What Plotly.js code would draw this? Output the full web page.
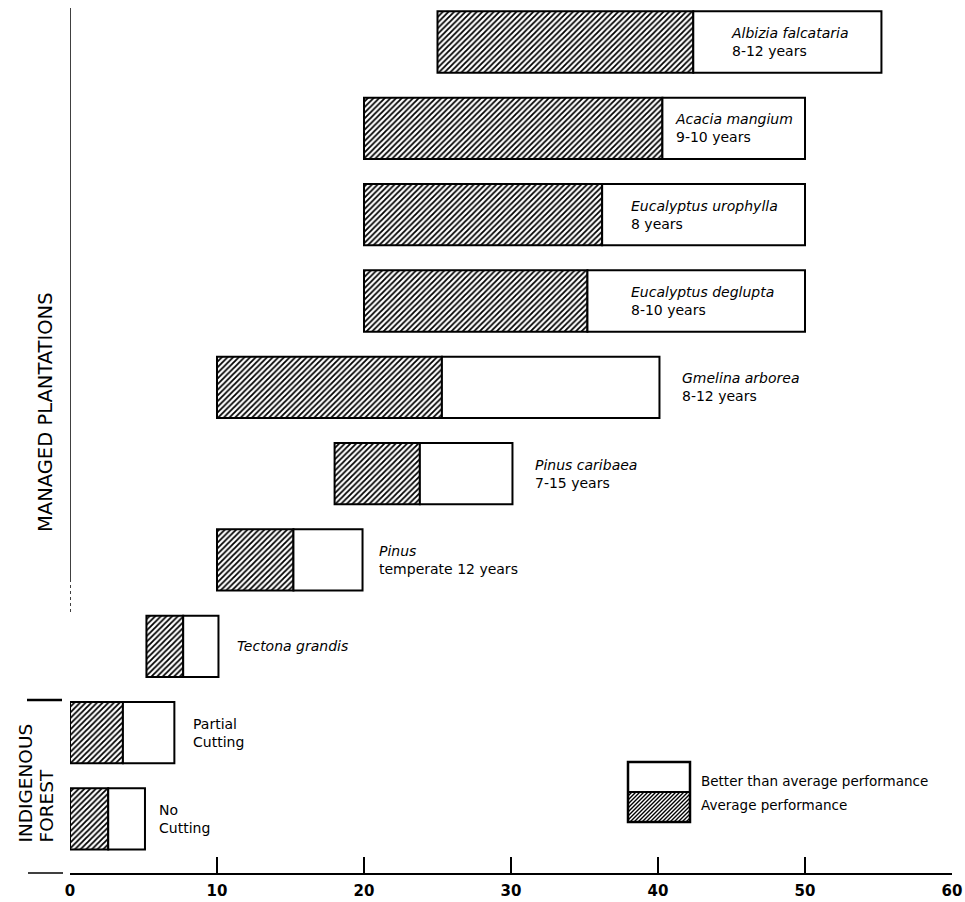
<!DOCTYPE html>
<html>
<head>
<meta charset="utf-8">
<script src="https://cdn.plot.ly/plotly-3.0.1.min.js"></script>
<style>html,body{margin:0;padding:0;background:#fff;}#chart{width:965px;height:902px;}</style>
</head>
<body>
<div id="chart"></div>
<script>
// ---- data ----
const categories = ["Albizia falcataria", "Acacia mangium", "Eucalyptus urophylla", "Eucalyptus deglupta",
  "Gmelina arborea", "Pinus caribaea", "Pinus temperate", "Tectona grandis", "Partial Cutting", "No Cutting"];
const startValues = [25, 20, 20, 20, 10, 18, 10, 5.2, 0, 0];
const averageEnd  = [42.4, 40.3, 36.2, 35.2, 25.3, 23.8, 15.2, 7.7, 3.6, 2.6];
const betterEnd   = [55.2, 50, 50, 50, 40.1, 30.1, 19.9, 10.1, 7.1, 5.1];
const barLabels = [
  "<i>Albizia falcataria</i><br>8-12 years",
  "<i>Acacia mangium</i><br>9-10 years",
  "<i>Eucalyptus urophylla</i><br>8 years",
  "<i>Eucalyptus deglupta</i><br>8-10 years",
  "<i>Gmelina arborea</i><br>8-12 years",
  "<i>Pinus caribaea</i><br>7-15 years",
  "<i>Pinus</i><br>temperate 12 years",
  "<i>Tectona grandis</i>",
  "Partial<br>Cutting",
  "No<br>Cutting"
];
const xTicks = [0, 10, 20, 30, 40, 50, 60];
const seriesNames = ["Average performance", "Better than average performance"];
const groupLabels = ["MANAGED PLANTATIONS", "INDIGENOUS", "FOREST"];

// label placement (offset in x units from a reference point of each bar)
const labelAnchor = ["avg", "avg", "avg", "avg", "end", "end", "end", "end", "end", "end"];
const labelOffset = [2.4, 0.7, 1.8, 2.8, 1.4, 1.4, 1.0, 1.1, 1.1, 0.8];

const FONT = "DejaVu Sans, Verdana, sans-serif";
const W = 965, H = 902;
const M = {l: 70, r: 13, t: 0, b: 29};
const PW = W - M.l - M.r, PH = H - M.t - M.b;
const px2x = p => (p - M.l) / PW;          // pixel -> paper x
const py2y = p => 1 - (p - M.t) / PH;      // pixel -> paper y

const hatch = {shape: "/", size: 4, solidity: 0.45, fgcolor: "black", bgcolor: "white", fillmode: "replace"};

const avgTrace = {
  type: "bar", orientation: "h", name: seriesNames[0],
  y: categories,
  base: startValues,
  x: averageEnd.map((v, i) => v - startValues[i]),
  marker: {color: "white", pattern: hatch, line: {color: "black", width: 2}},
  hoverinfo: "skip", showlegend: false
};
const betterTrace = {
  type: "bar", orientation: "h", name: seriesNames[1],
  y: categories,
  base: averageEnd,
  x: betterEnd.map((v, i) => v - averageEnd[i]),
  marker: {color: "white", line: {color: "black", width: 2}},
  hoverinfo: "skip", showlegend: false
};

const annotations = categories.map((c, i) => ({
  x: (labelAnchor[i] === "avg" ? averageEnd[i] : betterEnd[i]) + labelOffset[i],
  y: c, xref: "x", yref: "y",
  text: barLabels[i], showarrow: false, xanchor: "left", yanchor: "middle", align: "left",
  font: {family: FONT, size: 14, color: "black"}
}));

// group labels (rotated)
annotations.push(
  {text: groupLabels[0], xref: "paper", yref: "paper", x: px2x(45), y: py2y(412), textangle: -90,
   showarrow: false, xanchor: "center", yanchor: "middle", font: {family: FONT, size: 19.5, color: "black"}},
  {text: groupLabels[1], xref: "paper", yref: "paper", x: px2x(25), y: py2y(845), textangle: -90,
   showarrow: false, xanchor: "center", yanchor: "bottom", font: {family: FONT, size: 18.5, color: "black"}},
  {text: groupLabels[2], xref: "paper", yref: "paper", x: px2x(46), y: py2y(845), textangle: -90,
   showarrow: false, xanchor: "center", yanchor: "bottom", font: {family: FONT, size: 18.5, color: "black"}}
);

// ---- custom legend key (box: white top half, hatched bottom half) ----
const key = {x0: 628, x1: 690, y0: 762, ym: 792, y1: 822};
annotations.push(
  {text: seriesNames[1], xref: "paper", yref: "paper", x: px2x(699), y: py2y(781), showarrow: false,
   xanchor: "left", yanchor: "middle", font: {family: FONT, size: 13.5, color: "black"}},
  {text: seriesNames[0], xref: "paper", yref: "paper", x: px2x(699), y: py2y(805), showarrow: false,
   xanchor: "left", yanchor: "middle", font: {family: FONT, size: 13.5, color: "black"}}
);
// hatch lines for the legend key, clipped to the lower half of the key box
let hatchPath = "";
const hh = key.y1 - key.ym, step = 4;
for (let c = key.x0 - hh; c <= key.x1; c += step) {
  const t0 = Math.max(0, key.x0 - c), t1 = Math.min(hh, key.x1 - c);
  if (t1 <= t0) continue;
  hatchPath += `M${px2x(c + t0)},${py2y(key.y1 - t0)}L${px2x(c + t1)},${py2y(key.y1 - t1)}`;
}

const shapes = [
  // y-axis bracket for managed plantations
  {type: "line", xref: "x", yref: "paper", x0: 0, x1: 0, y0: py2y(580), y1: py2y(8), line: {color: "black", width: 1.5}},
  {type: "line", xref: "x", yref: "paper", x0: 0, x1: 0, y0: py2y(612), y1: py2y(580), line: {color: "black", width: 1.5, dash: "dot"}},
  // separator above indigenous forest
  {type: "line", xref: "paper", yref: "paper", x0: px2x(27), x1: px2x(62), y0: py2y(700), y1: py2y(700), line: {color: "black", width: 2.5}},
  // x-axis extension to the left
  {type: "line", xref: "paper", yref: "paper", x0: px2x(28), x1: px2x(63), y0: 0, y1: 0, line: {color: "black", width: 1.5}},
  // legend key
  {type: "rect", xref: "paper", yref: "paper", x0: px2x(key.x0), x1: px2x(key.x1), y0: py2y(key.y1), y1: py2y(key.y0),
   fillcolor: "white", line: {width: 0}},
  {type: "path", xref: "paper", yref: "paper", path: hatchPath, line: {color: "black", width: 1.4}},
  {type: "line", xref: "paper", yref: "paper", x0: px2x(key.x0), x1: px2x(key.x1), y0: py2y(key.ym), y1: py2y(key.ym), line: {color: "black", width: 2}},
  {type: "rect", xref: "paper", yref: "paper", x0: px2x(key.x0), x1: px2x(key.x1), y0: py2y(key.y1), y1: py2y(key.y0),
   fillcolor: "rgba(0,0,0,0)", line: {color: "black", width: 2.5}}
];

const layout = {
  width: W, height: H,
  margin: M,
  paper_bgcolor: "white", plot_bgcolor: "white",
  barmode: "overlay", bargap: 0.29,
  showlegend: false,
  font: {family: FONT, color: "black"},
  xaxis: {range: [0, 60], tickvals: xTicks, ticktext: xTicks.map(String), ticks: "inside", ticklen: 16,
          tickwidth: 1.5, tickcolor: "black", showline: true, linecolor: "black", linewidth: 1.5,
          ticklabelstandoff: 3,
          showgrid: false, zeroline: false,
          tickfont: {family: FONT, size: 15, weight: "bold", color: "black"}, fixedrange: true},
  yaxis: {type: "category", range: [9.626, -0.4865], showticklabels: false, ticks: "", showgrid: false,
          zeroline: false, showline: false, fixedrange: true},
  shapes: shapes,
  annotations: annotations
};

Plotly.newPlot("chart", [avgTrace, betterTrace], layout, {staticPlot: true, displayModeBar: false});
</script>
</body>
</html>
